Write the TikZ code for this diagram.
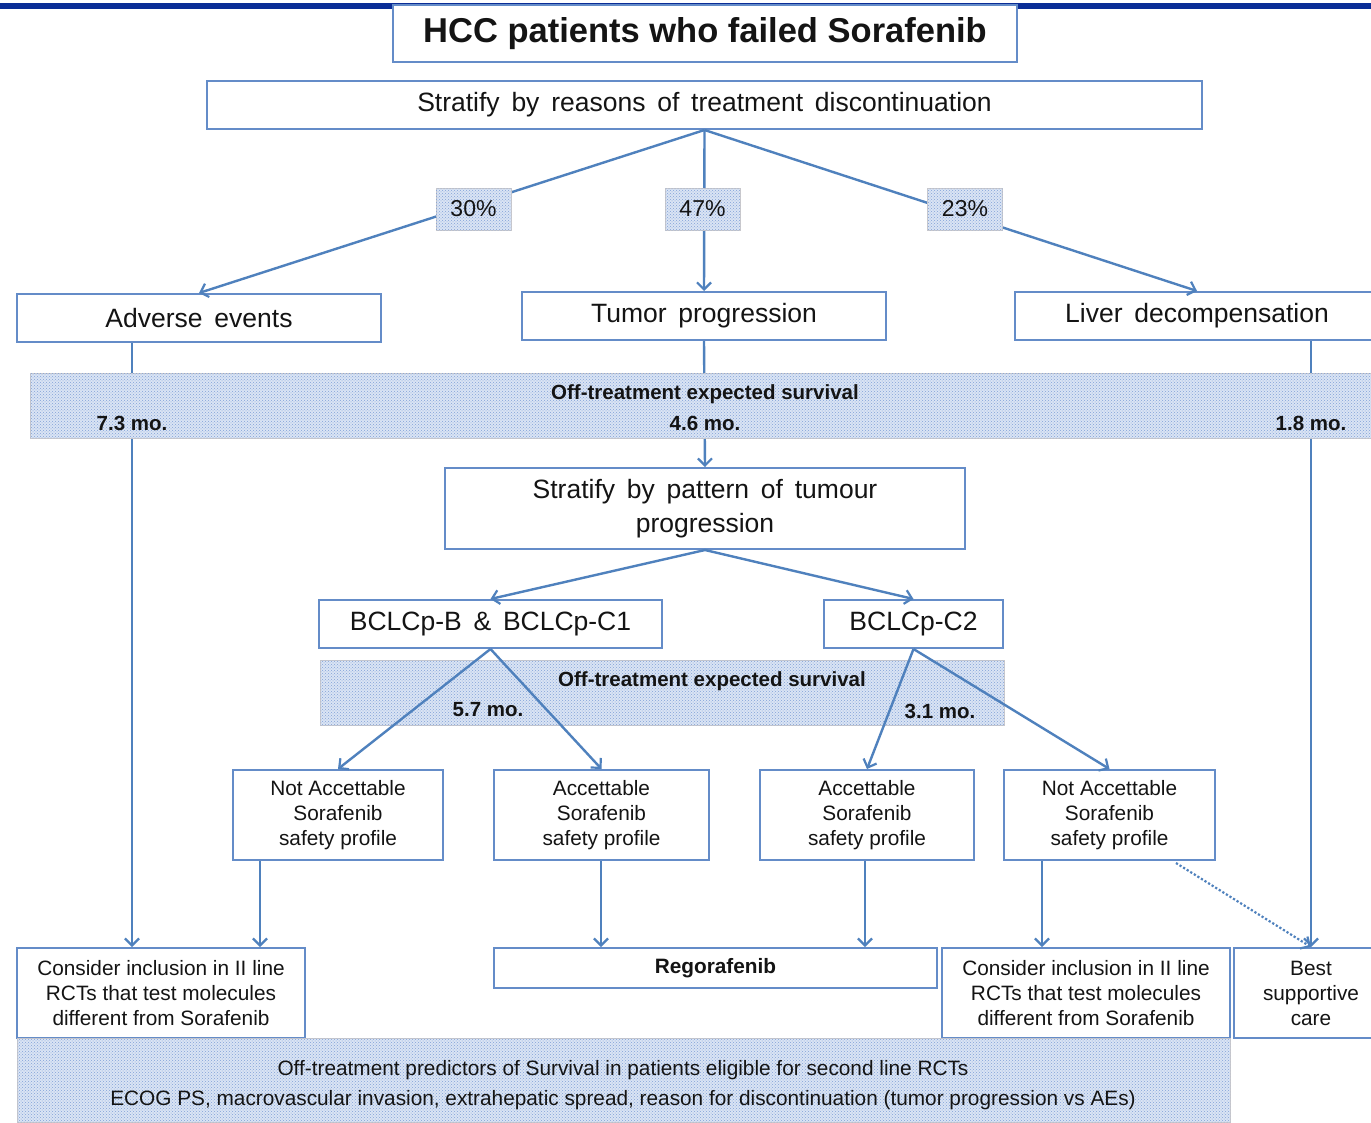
\documentclass[tikz,border=0pt]{standalone}
\usepackage{fontspec}
\setmainfont{Liberation Sans}
\newfontfamily\widefont[WordSpace=1.6]{Liberation Sans}
\usetikzlibrary{arrows.meta,patterns,calc}
\definecolor{lineblue}{RGB}{79,129,189}
\definecolor{boxblue}{RGB}{100,140,200}
\definecolor{barblue}{RGB}{10,45,150}
\definecolor{bandfill}{RGB}{218,228,244}
\definecolor{banddot}{RGB}{130,162,215}
\definecolor{bandedge}{RGB}{200,200,205}
\definecolor{txt}{RGB}{20,20,20}
\begin{document}
\begin{tikzpicture}[x=1pt,y=-1pt,
  box/.style={draw=boxblue,line width=2pt,fill=white,inner sep=2pt,text=txt,align=center},
  bigtxt/.style={font=\widefont\fontsize{26.5}{34}\selectfont},
  smalltxt/.style={font=\fontsize{20.8}{25}\selectfont},
  band/.style={draw=bandedge,line width=0.8pt,fill=bandfill,postaction={pattern=crosshatch dots,pattern color=banddot}},
  pct/.style={draw=bandedge,line width=0.8pt,fill=bandfill,postaction={pattern=crosshatch dots,pattern color=banddot},minimum width=75pt,minimum height=42pt,inner sep=0pt},
  bandtxt/.style={font=\bfseries\fontsize{20.5}{24}\selectfont,text=txt,inner sep=0pt},
  arr/.style={draw=lineblue,line width=2.4pt,-{Straight Barb[length=7pt,width=14pt,line width=2.2pt]}},
  dotarr/.style={draw=lineblue,line width=2.2pt,dotted,-{Straight Barb[length=7pt,width=14pt,line width=2.2pt]}}
]
\useasboundingbox (0,0) rectangle (1371,1122);
\fill[white] (0,0) rectangle (1371,1122);
% top rule
\fill[barblue] (0,3) rectangle (1371,9);

% x positions of vertical connectors
\coordinate (xae) at (132,0);
\coordinate (xld) at (1311,0);
\coordinate (xn1) at (260,0);
\coordinate (xa1) at (601,0);
\coordinate (xa2) at (865,0);
\coordinate (xn2) at (1042,0);

% boxes
\node[box,minimum width=624pt,minimum height=57pt,font=\bfseries\fontsize{34.5}{38}\selectfont] (title) at (705,33.5) {HCC patients who failed Sorafenib};
\node[box,bigtxt,minimum width=995pt,minimum height=48pt] (strat1) at (704.5,105) {Stratify by reasons of treatment discontinuation};
\node[box,bigtxt,minimum width=364pt,minimum height=48pt] (ae) at (199,318) {Adverse events};
\node[box,bigtxt,minimum width=364pt,minimum height=48pt] (tp) at (704,316) {Tumor progression};
\node[box,bigtxt,minimum width=364pt,minimum height=48pt] (ld) at (1197,316) {Liver decompensation};
\node[box,bigtxt,minimum width=520pt,minimum height=81pt] (strat2) at (705,508.5) {Stratify by pattern of tumour\\progression};
\node[box,bigtxt,minimum width=343pt,minimum height=48pt] (bc1) at (490.5,624) {BCLCp-B \& BCLCp-C1};
\node[box,bigtxt,minimum width=179pt,minimum height=48pt] (bc2) at (913.5,624) {BCLCp-C2};
\node[box,smalltxt,minimum width=210pt,minimum height=90pt] (n1) at (338,815) {Not Accettable\\Sorafenib\\safety profile};
\node[box,smalltxt,minimum width=215pt,minimum height=90pt] (a1) at (601.5,815) {Accettable\\Sorafenib\\safety profile};
\node[box,smalltxt,minimum width=214pt,minimum height=90pt] (a2) at (867,815) {Accettable\\Sorafenib\\safety profile};
\node[box,smalltxt,minimum width=211pt,minimum height=90pt] (n2) at (1109.5,815) {Not Accettable\\Sorafenib\\safety profile};
\node[box,smalltxt,minimum width=288pt,minimum height=90pt] (cons1) at (161,993) {Consider inclusion in II line\\RCTs that test molecules\\different from Sorafenib};
\node[box,minimum width=443pt,minimum height=40pt,font=\bfseries\fontsize{20.8}{25}\selectfont] (rego) at (715.5,968) {Regorafenib};
\node[box,smalltxt,minimum width=288pt,minimum height=90pt] (cons2) at (1086,993) {Consider inclusion in II line\\RCTs that test molecules\\different from Sorafenib};
\node[box,smalltxt,minimum width=154pt,minimum height=90pt] (bsc) at (1311,993) {Best\\supportive\\care};

% connectors of the first split
\draw[arr] (strat1.south) -- (ae.north);
\draw[arr] (strat1.south) -- (tp.north);
\draw[arr] (strat1.south) -- (ld.north);
\node[pct,font=\fontsize{23}{26}\selectfont,text=txt] (p30) at (473.5,209) {30\%};
\node[pct,font=\fontsize{23}{26}\selectfont,text=txt] (p47) at (702.5,209) {47\%};
\node[pct,font=\fontsize{23}{26}\selectfont,text=txt] (p23) at (965,209) {23\%};

% long vertical connectors
\draw[arr] (ae.south -| xae) -- (cons1.north -| xae);
\draw[arr] (ld.south -| xld) -- (bsc.north -| xld);
\draw[arr] (tp.south) -- (strat2.north);

% first survival band
\node[band,minimum width=1345pt,minimum height=65pt,inner sep=0pt] (band1) at (702.5,405.5) {};
\node[bandtxt] (b1t) at (705,394) {Off-treatment expected survival};
\node[bandtxt] (b1a) at (132,423) {7.3 mo.};
\node[bandtxt] (b1b) at (705,423) {4.6 mo.};
\node[bandtxt] (b1c) at (1311,423) {1.8 mo.};

% second survival band
\node[band,minimum width=684pt,minimum height=65pt,inner sep=0pt] (band2) at (662,692.5) {};
\node[bandtxt] (b2t) at (712,681) {Off-treatment expected survival};
\node[bandtxt] (b2a) at (488,710) {5.7 mo.};
\node[bandtxt] (b2b) at (940,711) {3.1 mo.};

% pattern split
\draw[arr] (strat2.south) -- (bc1.north);
\draw[arr] (strat2.south) -- (bc2.north);
\draw[arr] (bc1.south) -- (n1.north);
\draw[arr] (bc1.south) -- (a1.north);
\draw[arr] (bc2.south) -- (a2.north);
\draw[arr] (bc2.south) -- (n2.north);

% safety profile outcomes
\draw[arr] (n1.south -| xn1) -- (cons1.north -| xn1);
\draw[arr] (a1.south -| xa1) -- (rego.north -| xa1);
\draw[arr] (a2.south -| xa2) -- (rego.north -| xa2);
\draw[arr] (n2.south -| xn2) -- (cons2.north -| xn2);
\draw[dotarr] ($(n2.south east)+(-40,2)$) -- (bsc.north);

% predictors band
\node[band,minimum width=1213pt,minimum height=84pt,inner sep=0pt] (band3) at (623.5,1080) {};
\node[font=\fontsize{20.8}{24}\selectfont,text=txt,inner sep=0pt] (b3a) at (623,1070) {Off-treatment predictors of Survival in patients eligible for second line RCTs};
\node[font=\fontsize{20.8}{24}\selectfont,text=txt,inner sep=0pt] (b3b) at (623,1100) {ECOG PS, macrovascular invasion, extrahepatic spread, reason for discontinuation (tumor progression vs AEs)};
\end{tikzpicture}
\end{document}
